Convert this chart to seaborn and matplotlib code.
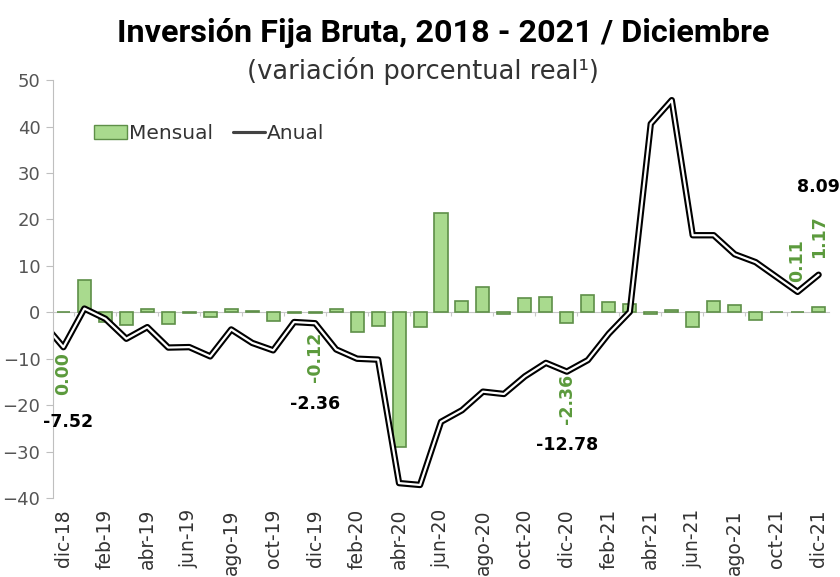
import numpy as np
import pandas as pd
import matplotlib
matplotlib.use("Agg")
import matplotlib.pyplot as plt
import matplotlib.patheffects as pe
from matplotlib.patches import Patch
import seaborn as sns

# --- DATOS ---
meses = ["nov-18", "dic-18",
         "ene-19", "feb-19", "mar-19", "abr-19", "may-19", "jun-19",
         "jul-19", "ago-19", "sep-19", "oct-19", "nov-19", "dic-19",
         "ene-20", "feb-20", "mar-20", "abr-20", "may-20", "jun-20",
         "jul-20", "ago-20", "sep-20", "oct-20", "nov-20", "dic-20",
         "ene-21", "feb-21", "mar-21", "abr-21", "may-21", "jun-21",
         "jul-21", "ago-21", "sep-21", "oct-21", "nov-21", "dic-21"]
mensual = [np.nan, 0.00,
           6.9, -2.2, -2.8, 0.8, -2.6, -0.1,
           -1.0, 0.7, 0.3, -1.8, -0.1, -0.12,
           0.8, -4.2, -2.9, -29.0, -3.1, 21.4,
           2.4, 5.4, -0.4, 3.0, 3.4, -2.36,
           3.8, 2.3, 1.8, -0.4, 0.4, -3.1,
           2.5, 1.6, -1.7, 0.05, 0.11, 1.17]
anual = [-2.2, -7.52,
         0.8, -1.4, -5.7, -3.2, -7.6, -7.5,
         -9.5, -3.7, -6.6, -8.2, -2.1, -2.36,
         -8.0, -10.0, -10.2, -36.8, -37.2, -23.6,
         -21.1, -17.1, -17.6, -13.8, -10.9, -12.78,
         -10.3, -4.6, 0.1, 40.6, 45.7, 16.6,
         16.6, 12.5, 10.8, 7.6, 4.4, 8.09]
# etiquetas destacadas (diciembres y cierre)
idx_mensual = [1, 13, 25, 36, 37]
idx_anual = [1, 13, 25, 37]

df = pd.DataFrame({"mes": meses, "mensual": mensual, "anual": anual})
df["pos"] = np.arange(len(df))

verde_barra = "#a9da8e"
verde_borde = "#5e8f48"
verde_texto = "#5b9a3c"

fig = plt.figure(figsize=(8.4, 5.77), dpi=100)
sns.set_style("white")
plt.rcParams["font.family"] = ["DejaVu Sans"]
ax = fig.add_axes([0.063, 0.137, 0.924, 0.724])

sns.barplot(data=df, x="pos", y="mensual", order=list(df["pos"]), native_scale=True,
            color=verde_barra, edgecolor=verde_borde, linewidth=1.2, width=0.62,
            saturation=1, ax=ax, label="Mensual")

sns.lineplot(data=df, x="pos", y="anual", color="white", linewidth=1.6, ax=ax,
             label="Anual",
             path_effects=[pe.Stroke(linewidth=4.6, foreground="black"), pe.Normal()])

ax.set_xlim(0.5, len(df) - 0.5)
ax.set_ylim(-40, 50)
ax.set_yticks(range(-40, 51, 10))
ax.set_xticks(df["pos"][1::2])
ax.set_xticklabels(df["mes"][1::2], rotation=90, fontsize=13.5, color="#333333")
ax.tick_params(axis="x", length=0, pad=8)
ax.tick_params(axis="y", left=True, length=5, color="#bfbfbf", labelsize=13,
               labelcolor="#555555", pad=4)
ax.set_xlabel("")
ax.set_ylabel("")
for s in ["top", "right", "bottom"]:
    ax.spines[s].set_visible(False)
ax.spines["left"].set_color("#bfbfbf")

# eje de categorías en y = 0
eje0 = ax.secondary_xaxis(40 / 90)
eje0.set_xticks(df["pos"][2::2] - 0.5)
eje0.set_xticklabels([])
eje0.tick_params(length=3, color="#c8c8c8", direction="out")
eje0.spines["bottom"].set_color("#c8c8c8")
ax.set_zorder(1)

# etiquetas mensuales (verdes, verticales)
off_m = {1: -13.1, 13: -9.7, 25: -18.7, 36: 11.2, 37: 16.3}
for i in idx_mensual:
    ax.text(df["pos"][i], off_m[i], f"{mensual[i]:.2f}", rotation=90, ha="center",
            va="center", color=verde_texto, fontsize=12.5, fontweight="bold")

# etiquetas anuales (negras)
off_a = {1: -23.7, 13: -19.8, 25: -28.6, 37: 26.9}
for i in idx_anual:
    ax.text(df["pos"][i] + (0.2 if i == 1 else 0), off_a[i], f"{anual[i]:.2f}",
            ha="center", va="center", color="black", fontsize=12.5, fontweight="bold")

handles = [Patch(facecolor=verde_barra, edgecolor=verde_borde, linewidth=1),
           ax.get_lines()[0]]
ax.legend(handles, ["Mensual", "Anual"], loc="center left", bbox_to_anchor=(0.03, 0.873),
          ncol=2, frameon=False, fontsize=14.5, handlelength=1.6, handletextpad=0.1,
          columnspacing=1.0, labelcolor="#333333")

fig.text(0.528, 0.943, "Inversión Fija Bruta, 2018 - 2021 / Diciembre", ha="center",
         va="center", fontsize=23.3, fontweight="bold", color="black",
         family=["Roboto", "DejaVu Sans"])
fig.text(0.504, 0.877, "(variación porcentual real¹)", ha="center", va="center",
         fontsize=18.5, color="#333333")

fig.savefig("out.png", dpi=100)
